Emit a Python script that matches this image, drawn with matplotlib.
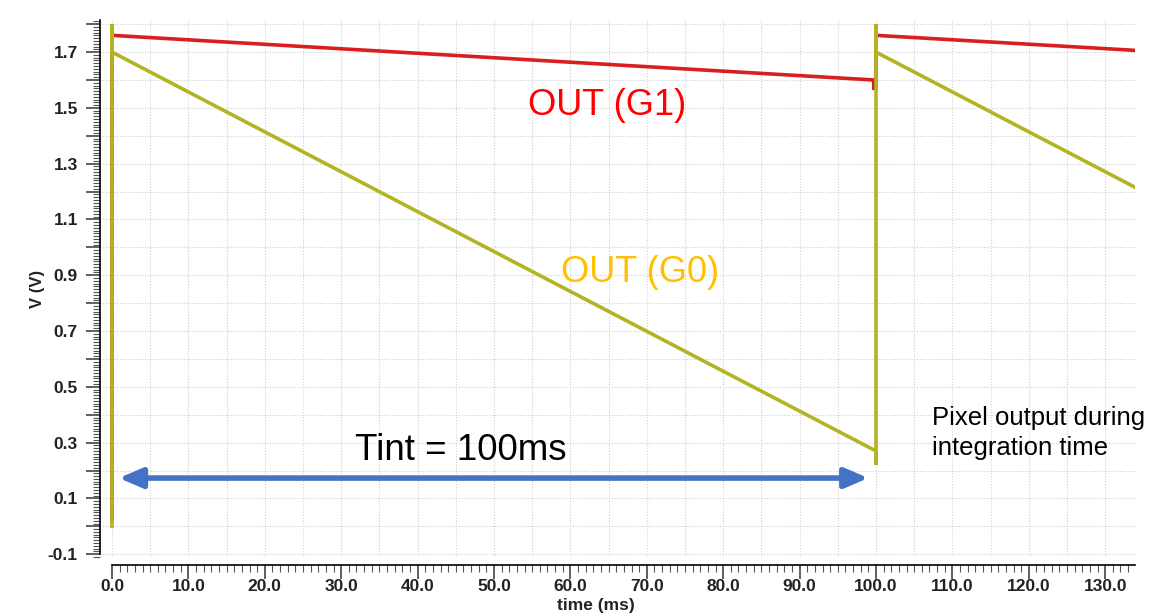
import matplotlib.pyplot as plt
import numpy as np
from matplotlib.ticker import MultipleLocator, FixedLocator, FuncFormatter

# waveform breakpoints (time in ms, volts)
g1_t = [0.0, 0.0, 0.0, 99.7, 99.7, 100.0, 100.0, 100.0, 134.0]
g1_v = [0.02, 1.80, 1.76, 1.60, 1.57, 1.57, 1.80, 1.76, 1.706]

g0_t = [0.0, 0.0, 0.0, 100.0, 100.0, 100.0, 100.0, 134.0]
g0_v = [0.0, 1.80, 1.70, 0.27, 0.22, 1.80, 1.70, 1.214]

x_major = np.arange(0, 131, 10)
y_labels = [-0.1, 0.1, 0.3, 0.5, 0.7, 0.9, 1.1, 1.3, 1.5, 1.7]

plt.rcParams['font.family'] = ['Liberation Sans', 'DejaVu Sans']

fig = plt.figure(figsize=(11.67, 6.13), dpi=100)
ax = fig.add_axes([100/1167, 1-557/613, 1035/1167, 537/613])

ax.plot(g1_t, g1_v, color='#d81e1e', lw=2.6, solid_joinstyle='miter')
ax.plot(g0_t, g0_v, color='#b2b424', lw=2.6, solid_joinstyle='miter')

ax.set_xlim(-1.57, 133.9)
ax.set_ylim(-0.11, 1.815)

# grid
ax.xaxis.set_minor_locator(FixedLocator(np.arange(0, 134, 1)))
ax.yaxis.set_minor_locator(MultipleLocator(0.01))
ax.set_xticks(x_major)
ax.yaxis.set_major_locator(MultipleLocator(0.1))
for x in np.arange(0, 134, 5):
    ax.axvline(x, color='#d0d0d0', lw=0.8, ls=(0, (1, 1.5)), zorder=0)
for y in np.arange(-0.1, 1.81, 0.1):
    ax.axhline(y, color='#d0d0d0', lw=0.8, ls=(0, (1, 1.5)), zorder=0)

ax.xaxis.set_major_formatter(FuncFormatter(lambda v, p: '%.1f' % v))
ax.yaxis.set_major_formatter(FuncFormatter(
    lambda v, p: ('%.1f' % v) if any(abs(v - l) < 1e-6 for l in y_labels) else ''))

for s in ['top', 'right']:
    ax.spines[s].set_visible(False)
ax.spines['bottom'].set_position(('outward', 6))
ax.spines['bottom'].set_bounds(0, 133.9)
ax.spines['left'].set_bounds(-0.1, 1.815)
ax.spines['left'].set_linewidth(1.2)
ax.spines['bottom'].set_linewidth(1.2)

ax.tick_params(axis='both', which='major', length=10, width=1.2, labelsize=12.5, color='#444444')
ax.tick_params(axis='both', which='minor', length=5, width=0.8, color='#555555')
ax.tick_params(axis='x', which='major', pad=0)
ax.tick_params(axis='y', pad=6)
for lab in ax.get_xticklabels() + ax.get_yticklabels():
    lab.set_fontweight('bold')
    lab.set_color('#222222')

ax.set_xlabel('time (ms)', fontsize=12.5, fontweight='bold', color='#222222')
ax.xaxis.set_label_coords(0.479, -0.077)
ax.set_ylabel('V (V)', fontsize=12, fontweight='bold', color='#222222')
ax.yaxis.set_label_coords(-0.053, 0.5)

# annotations
ax.text(54.5, 1.51, 'OUT (G1)', color='#ff0000', fontsize=26, ha='left', va='center')
ax.text(58.8, 0.91, 'OUT (G0)', color='#ffc000', fontsize=26, ha='left', va='center')
ax.text(31.8, 0.27, 'Tint = 100ms', color='black', fontsize=26.5, ha='left', va='center')
ax.text(107.3, 0.335, 'Pixel output during\nintegration time', color='black', fontsize=18.5,
        ha='left', va='center', linespacing=1.3)

ax.annotate('', xy=(0.9, 0.173), xytext=(99.0, 0.173),
            arrowprops=dict(arrowstyle='<|-|>,head_length=1.4,head_width=0.6',
                            color='#4472c4', lw=4, shrinkA=0, shrinkB=0))

fig.savefig('out.png', dpi=100)
